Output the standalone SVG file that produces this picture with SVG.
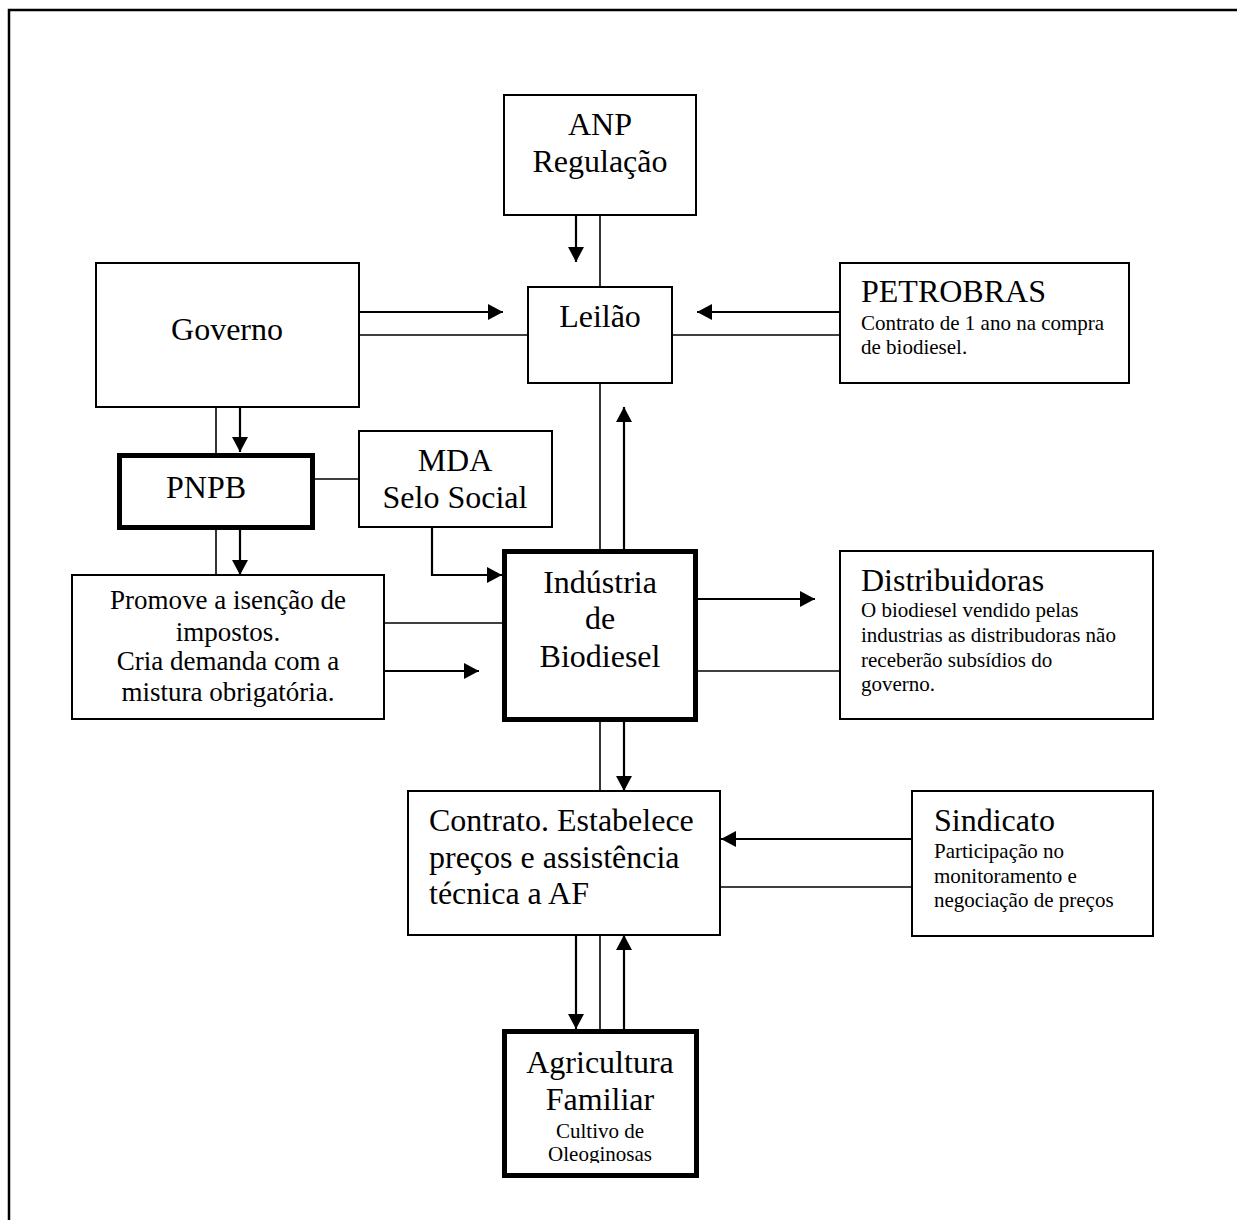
<svg xmlns="http://www.w3.org/2000/svg" width="1237" height="1220" viewBox="0 0 1237 1220">
<style>
.box{fill:#fff;stroke:#000;stroke-width:2}
.thick{fill:#fff;stroke:#000;stroke-width:5}
.t{font-family:"Liberation Serif","Times New Roman",serif;font-size:32px;fill:#000}
.s{font-family:"Liberation Serif","Times New Roman",serif;font-size:21px;fill:#000}
.m{font-family:"Liberation Serif","Times New Roman",serif;font-size:27px;fill:#000}
.c{text-anchor:middle}
.ln{fill:none;stroke:#000;stroke-width:1.6}
.ar{fill:none;stroke:#000;stroke-width:2.2;marker-end:url(#ah)}
</style>
<defs>
<marker id="ah" markerUnits="userSpaceOnUse" markerWidth="15" markerHeight="16" viewBox="0 0 15 16" refX="15" refY="8" orient="auto">
<path d="M0,0 L15,8 L0,16 z" fill="#000"/>
</marker>
<clipPath id="agclip"><rect x="504" y="1031" width="192" height="132"/></clipPath>
</defs>
<rect width="1237" height="1220" fill="#fff"/>
<path d="M9,1220 V10 H1237" fill="none" stroke="#000" stroke-width="2.5"/>

<g id="connectors">
<path class="ar" d="M359,312 H503"/>
<path class="ln" d="M359,335 H528"/>
<path class="ar" d="M576,215 V262"/>
<path class="ln" d="M600,215 V287"/>
<path class="ar" d="M840,312 H697"/>
<path class="ln" d="M672,335 H840"/>
<path class="ln" d="M600,383 V549"/>
<path class="ar" d="M624,549 V407"/>
<path class="ln" d="M216,407 V453"/>
<path class="ar" d="M240,407 V452"/>
<path class="ln" d="M315,479 H359"/>
<path class="ln" d="M216,530 V575"/>
<path class="ar" d="M240,530 V575"/>
<path class="ar" d="M432,527 V575 H502"/>
<path class="ln" d="M384,623 H502"/>
<path class="ar" d="M384,671 H479"/>
<path class="ar" d="M698,599 H815"/>
<path class="ln" d="M698,671 H840"/>
<path class="ln" d="M600,722 V791"/>
<path class="ar" d="M624,722 V791"/>
<path class="ar" d="M912,839 H721"/>
<path class="ln" d="M720,887 H912"/>
<path class="ar" d="M576,935 V1029"/>
<path class="ln" d="M600,935 V1029"/>
<path class="ar" d="M624,1029 V935"/>
</g>

<g id="anp">
<rect class="box" x="504" y="95" width="192" height="120"/>
<text class="t c" x="600" y="135">ANP</text>
<text class="t c" x="600" y="172">Regulação</text>
</g>

<g id="governo">
<rect class="box" x="96" y="263" width="263" height="144"/>
<text class="t c" x="227" y="340">Governo</text>
</g>

<g id="leilao">
<rect class="box" x="528" y="287" width="144" height="96"/>
<text class="t c" x="600" y="327">Leilão</text>
</g>

<g id="petrobras">
<rect class="box" x="840" y="263" width="289" height="120"/>
<text class="t" x="861" y="302">PETROBRAS</text>
<text class="s" x="861" y="330">Contrato de 1 ano na compra</text>
<text class="s" x="861" y="354">de biodiesel.</text>
</g>

<g id="pnpb">
<rect class="thick" x="119.5" y="455.5" width="193" height="72"/>
<text class="t c" x="206" y="498">PNPB</text>
</g>

<g id="mda">
<rect class="box" x="359" y="431" width="193" height="96"/>
<text class="t c" x="455" y="471">MDA</text>
<text class="t c" x="455" y="508">Selo Social</text>
</g>

<g id="promove">
<rect class="box" x="72" y="575" width="312" height="144"/>
<text class="m c" x="228" y="609">Promove a isenção de</text>
<text class="m c" x="228" y="641">impostos.</text>
<text class="m c" x="228" y="670">Cria demanda com a</text>
<text class="m c" x="228" y="701">mistura obrigatória.</text>
</g>

<g id="industria">
<rect class="thick" x="504.5" y="551.5" width="191" height="168"/>
<text class="t c" x="600" y="593">Indústria</text>
<text class="t c" x="600" y="629">de</text>
<text class="t c" x="600" y="667">Biodiesel</text>
</g>

<g id="distribuidoras">
<rect class="box" x="840" y="551" width="313" height="168"/>
<text class="t" x="861" y="591">Distribuidoras</text>
<text class="s" x="861" y="617">O biodiesel vendido pelas</text>
<text class="s" x="861" y="642">industrias as distribudoras não</text>
<text class="s" x="861" y="667">receberão subsídios do</text>
<text class="s" x="861" y="691">governo.</text>
</g>

<g id="contrato">
<rect class="box" x="408" y="791" width="312" height="144"/>
<text class="t" x="429" y="831">Contrato. Estabelece</text>
<text class="t" x="429" y="868">preços e assistência</text>
<text class="t" x="429" y="904">técnica a AF</text>
</g>

<g id="sindicato">
<rect class="box" x="912" y="791" width="241" height="145"/>
<text class="t" x="934" y="831">Sindicato</text>
<text class="s" x="934" y="858">Participação no</text>
<text class="s" x="934" y="883">monitoramento e</text>
<text class="s" x="934" y="907">negociação de preços</text>
</g>

<g id="agricultura">
<rect class="thick" x="504.5" y="1031.5" width="192" height="144"/>
<g clip-path="url(#agclip)">
<text class="t c" x="600" y="1073">Agricultura</text>
<text class="t c" x="600" y="1110">Familiar</text>
<text class="s c" x="600" y="1138">Cultivo de</text>
<text class="s c" x="600" y="1161">Oleoginosas</text>
</g>
</g>
</svg>
